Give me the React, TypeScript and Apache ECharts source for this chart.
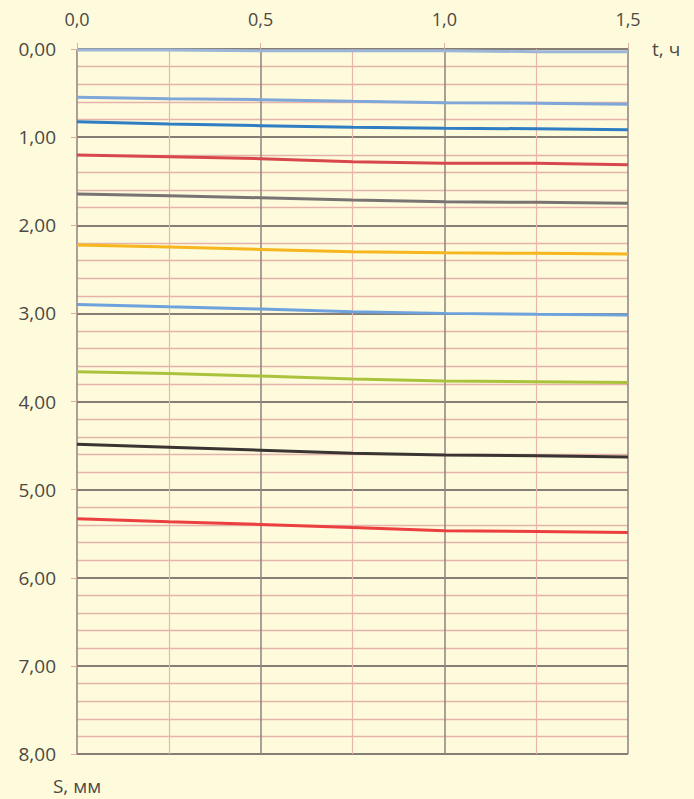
import React, { useEffect, useRef } from "react";
import * as echarts from "echarts";

const tValues = [0, 0.25, 0.5, 0.75, 1.0, 1.25, 1.5];

const s01 = [0.01, 0.01, 0.02, 0.02, 0.02, 0.03, 0.03];
const s02 = [0.548, 0.564, 0.575, 0.594, 0.609, 0.616, 0.628];
const s03 = [0.825, 0.851, 0.87, 0.889, 0.9, 0.905, 0.916];
const s04 = [1.203, 1.222, 1.245, 1.279, 1.297, 1.297, 1.313];
const s05 = [1.646, 1.665, 1.688, 1.714, 1.733, 1.74, 1.751];
const s06 = [2.225, 2.247, 2.274, 2.3, 2.312, 2.319, 2.327];
const s07 = [2.898, 2.925, 2.951, 2.982, 3.0, 3.011, 3.019];
const s08 = [3.663, 3.681, 3.712, 3.746, 3.768, 3.776, 3.783];
const s09 = [4.484, 4.518, 4.552, 4.586, 4.608, 4.616, 4.63];
const s10 = [5.33, 5.365, 5.395, 5.43, 5.468, 5.475, 5.486];

const seriesValues = [s01, s02, s03, s04, s05, s06, s07, s08, s09, s10];
const seriesColors = [
  "#9db6d8",
  "#7fa7d9",
  "#2f7dc2",
  "#d8474b",
  "#7a7373",
  "#f6b61e",
  "#6ea2dc",
  "#abc33c",
  "#3a3532",
  "#ec3f3f",
];

const xAxisName = "t, ч";
const yAxisName = "S, мм";

export default function App() {
  const ref = useRef<HTMLDivElement>(null);

  useEffect(() => {
    if (!ref.current) return;
    const chart = echarts.init(ref.current, null, { renderer: "svg" });
    const font = "'Open Sans', 'Liberation Sans', sans-serif";
    const txt = "#4d4845";
    chart.setOption({
      animation: false,
      backgroundColor: "#fdfbdb",
      grid: { left: 77, right: 66, top: 49, bottom: 45, containLabel: false },
      xAxis: {
        type: "value",
        position: "top",
        min: 0,
        max: 1.5,
        interval: 0.5,
        name: xAxisName,
        nameLocation: "end",
        nameGap: 24,
        nameTextStyle: { color: txt, fontSize: 19, fontFamily: font, padding: [12, 0, 0, 0] },
        axisLine: { show: false },
        axisTick: { show: true, length: 6, lineStyle: { color: "#e3a9a0" } },
        axisLabel: {
          color: txt,
          fontSize: 18,
          fontFamily: font,
          margin: 21,
          formatter: (v: number) => v.toFixed(1).replace(".", ","),
        },
        splitLine: { show: true, lineStyle: { color: "#8c8282", width: 1.5 } },
        minorTick: { show: false, splitNumber: 2 },
        minorSplitLine: { show: true, lineStyle: { color: "#ebb5ad", width: 1.2 } },
      },
      yAxis: {
        type: "value",
        inverse: true,
        min: 0,
        max: 8,
        interval: 1,
        name: yAxisName,
        nameLocation: "end",
        nameGap: 22,
        nameTextStyle: { color: txt, fontSize: 19, fontFamily: font, align: "center" },
        axisLine: { show: false },
        axisTick: { show: true, length: 6, lineStyle: { color: "#e3a9a0" } },
        axisLabel: {
          color: txt,
          fontSize: 19,
          fontFamily: font,
          margin: 21,
          formatter: (v: number) => v.toFixed(2).replace(".", ","),
        },
        splitLine: { show: true, lineStyle: { color: "#5e5452", width: 1.6 } },
        minorTick: { show: false, splitNumber: 5 },
        minorSplitLine: { show: true, lineStyle: { color: "#e6b3aa", width: 1.3 } },
      },
      series: seriesValues.map((vals, i) => ({
        type: "line",
        data: tValues.map((t, j) => [t, vals[j]]),
        showSymbol: false,
        symbol: "none",
        lineStyle: { color: seriesColors[i], width: 3 },
        z: 3,
      })),
    });
    return () => chart.dispose();
  }, []);

  return (
    <div
      ref={ref}
      style={{ position: "absolute", left: 0, top: 0, width: 694, height: 799, background: "#fdfbdb" }}
    />
  );
}
